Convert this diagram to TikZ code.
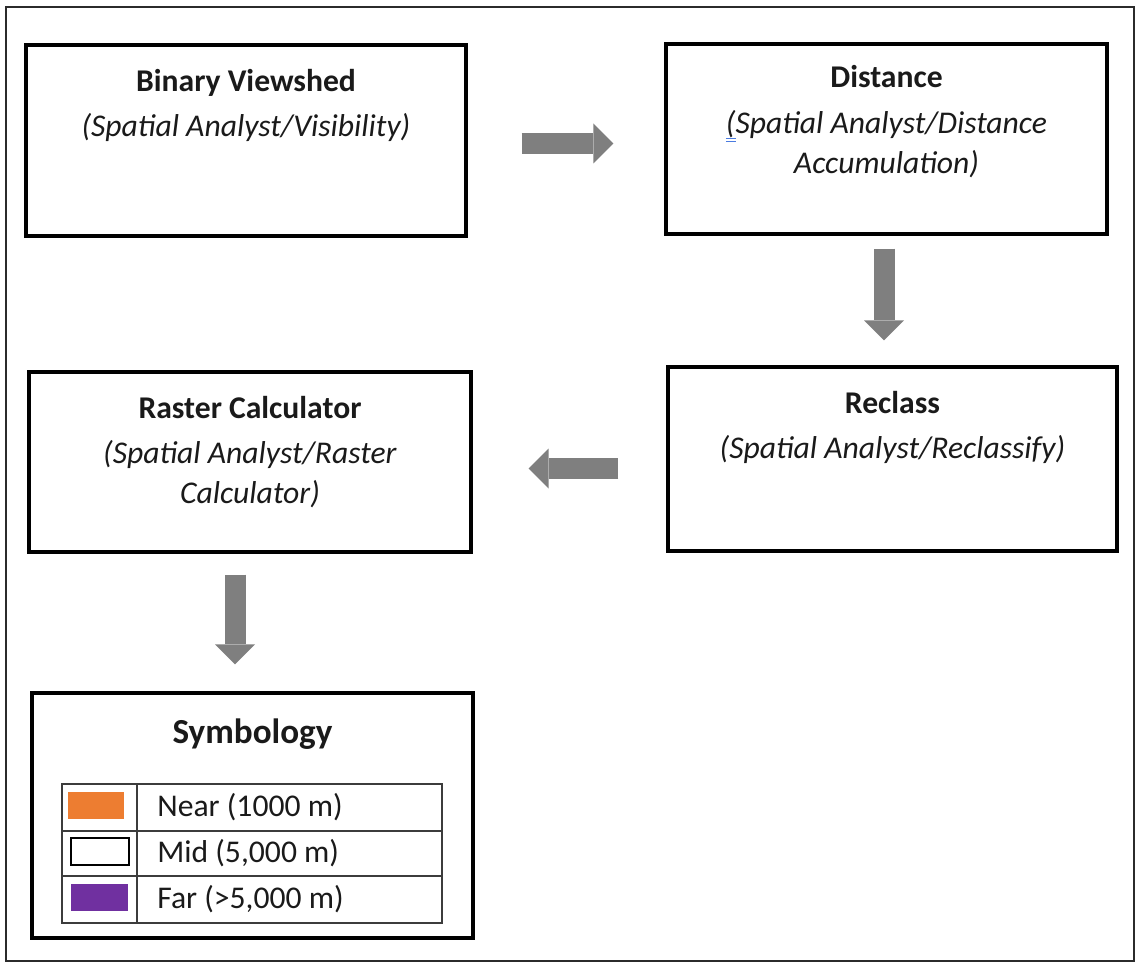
\documentclass[tikz,border=0pt]{standalone}
\usepackage{fontspec}
\setmainfont{Carlito}
\usetikzlibrary{arrows.meta}
\definecolor{ink}{HTML}{1A1A1A}
\definecolor{flowgray}{HTML}{7F7F7F}
\definecolor{nearcol}{HTML}{ED7D31}
\definecolor{farcol}{HTML}{7030A0}
\definecolor{fixblue}{HTML}{4A7BE0}
\definecolor{framecol}{HTML}{2B2B2B}
\definecolor{gridcol}{HTML}{3C3C3C}

% little autocorrect mark under the opening bracket
\newcommand{\fixmark}{\rlap{\color{fixblue}\rule[-3.4pt]{5.6pt}{0.6pt}}\rlap{\color{fixblue}\rule[-5.1pt]{5.6pt}{0.6pt}}}

\begin{document}
\begin{tikzpicture}[
  procbox/.style={draw=black, line width=1.8pt, inner sep=0pt},
  boxtext/.style={text=ink, align=center, inner sep=0pt, anchor=north,
    font=\fontsize{18}{22.7}\selectfont, execute at begin node={\rule{0pt}{15pt}}},
  flow/.style={draw=flowgray, line width=0.42cm,
    -{Triangle[width=0.8cm,length=0.4cm,line width=0pt]}},
  legtext/.style={text=ink, anchor=west, inner sep=0pt, font=\fontsize{18}{22}\selectfont}]

\useasboundingbox (0,0) rectangle (22.7,19.24);

% ---- outer frame -------------------------------------------------------
\draw[framecol, line width=0.7pt] (0.12,0.02) rectangle (22.68,19.1);

% ---- process boxes -----------------------------------------------------
\node[procbox, minimum width=8.8cm, minimum height=3.82cm] (bv) at (4.92,16.43) {};
\node[boxtext] (bv-text) at ([yshift=-0.51cm]bv.north)
  {\textbf{Binary Viewshed}\\[3pt]\textit{(Spatial Analyst/Visibility)}};

\node[procbox, minimum width=8.82cm, minimum height=3.8cm] (dist) at (17.73,16.46) {};
\node[boxtext] (dist-text) at ([yshift=-0.46cm]dist.north)
  {\textbf{Distance}\\[3pt]\textit{\fixmark(Spatial Analyst/Distance}\\\textit{Accumulation)}};

\node[procbox, minimum width=8.98cm, minimum height=3.68cm] (recl) at (17.85,10.06) {};
\node[boxtext] (recl-text) at ([yshift=-0.51cm]recl.north)
  {\textbf{Reclass}\\[3pt]\textit{(Spatial Analyst/Reclassify)}};

\node[procbox, minimum width=8.84cm, minimum height=3.6cm] (rcalc) at (5.0,10.0) {};
\node[boxtext] (rcalc-text) at ([yshift=-0.51cm]rcalc.north)
  {\textbf{Raster Calculator}\\[3pt]\textit{(Spatial Analyst/Raster}\\\textit{Calculator)}};

% ---- symbology legend --------------------------------------------------
\node[procbox, minimum width=8.82cm, minimum height=4.9cm] (sym) at (5.05,2.93) {};
\node[boxtext, font=\fontsize{20}{24}\selectfont\bfseries] (sym-text)
  at ([yshift=-0.51cm]sym.north) {Symbology};

\draw[gridcol, line width=0.8pt] (1.24,0.78) rectangle (8.84,3.56);
\draw[gridcol, line width=0.8pt] (1.24,2.62) -- (8.84,2.62)
  (1.24,1.72) -- (8.84,1.72) (2.74,0.78) -- (2.74,3.56);

\fill[nearcol] (1.36,2.86) rectangle (2.48,3.40);
\draw[black, line width=0.8pt, fill=white] (1.42,1.94) rectangle (2.58,2.48);
\fill[farcol] (1.42,1.02) rectangle (2.56,1.56);

\node[legtext] (near) at (3.14,3.09) {Near (1000 m)};
\node[legtext] (mid) at (3.14,2.17) {Mid (5,000 m)};
\node[legtext] (far) at (3.14,1.25) {Far (>5,000 m)};

% ---- flow arrows -------------------------------------------------------
\draw[flow, shorten <=1.08cm, shorten >=1.02cm]
  ([yshift=-0.06cm]bv.east) -- ([yshift=-0.06cm]bv.east -| dist.west);
\draw[flow, shorten <=0.26cm, shorten >=0.5cm]
  ([xshift=-0.05cm]dist.south) -- ([xshift=-0.05cm]dist.south |- recl.north);
\draw[flow, shorten <=0.96cm, shorten >=1.12cm]
  ([yshift=-0.19cm]recl.west) -- ([yshift=-0.19cm]recl.west -| rcalc.east);
\draw[flow, shorten <=0.42cm, shorten >=0.54cm]
  ([xshift=-0.3cm]rcalc.south) -- ([xshift=-0.3cm]rcalc.south |- sym.north);

\end{tikzpicture}
\end{document}
